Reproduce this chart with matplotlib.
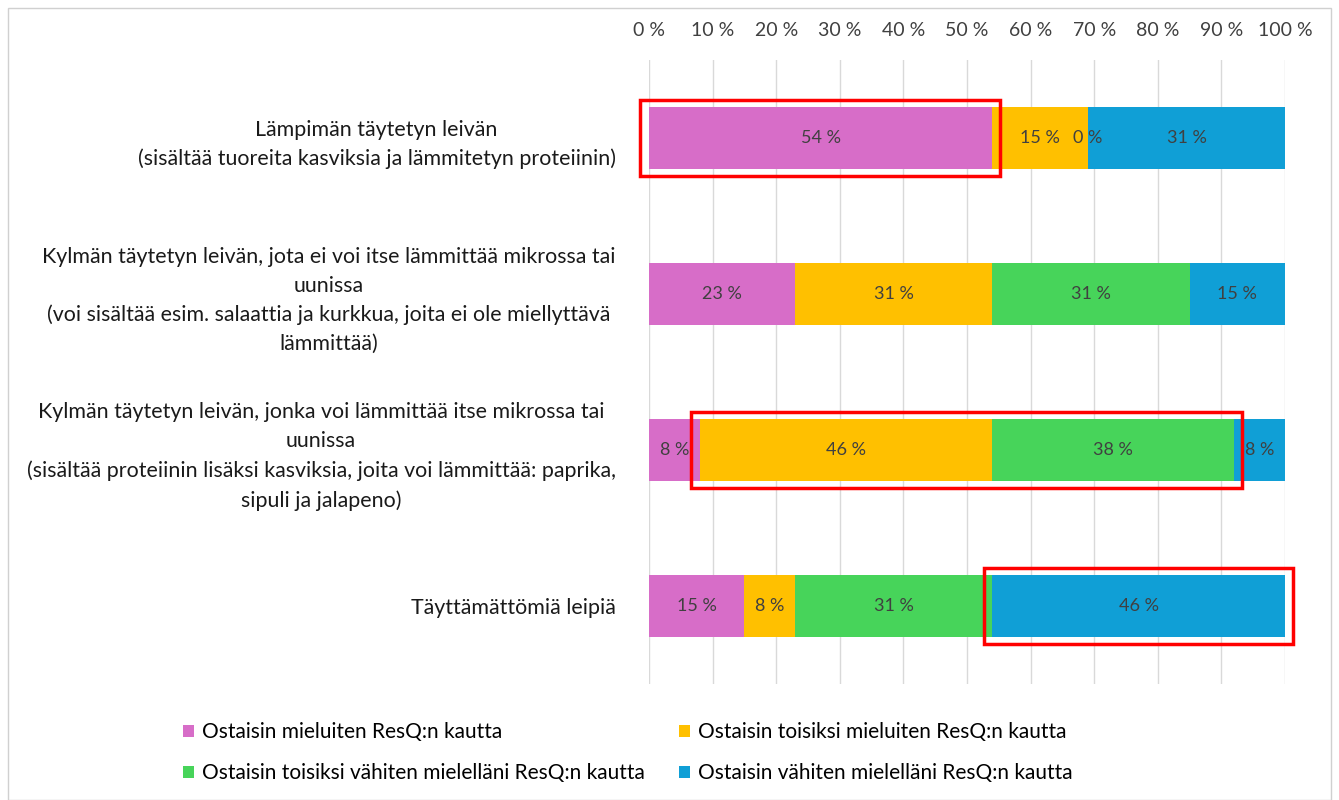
import numpy as np
import matplotlib
matplotlib.use("Agg")
import matplotlib.pyplot as plt
from matplotlib.patches import Rectangle

plt.rcParams['font.family'] = ['Lato', 'DejaVu Sans']

# data (percent of respondents)
categories = [
    "Lämpimän täytetyn leivän\n(sisältää tuoreita kasviksia ja lämmitetyn proteiinin)",
    "Kylmän täytetyn leivän, jota ei voi itse lämmittää mikrossa tai\nuunissa\n(voi sisältää esim. salaattia ja kurkkua, joita ei ole miellyttävä\nlämmittää)",
    "Kylmän täytetyn leivän, jonka voi lämmittää itse mikrossa tai\nuunissa\n(sisältää proteiinin lisäksi kasviksia, joita voi lämmittää: paprika,\nsipuli ja jalapeno)",
    "Täyttämättömiä leipiä",
]
series_names = [
    "Ostaisin mieluiten ResQ:n kautta",
    "Ostaisin toisiksi mieluiten ResQ:n kautta",
    "Ostaisin toisiksi vähiten mielelläni ResQ:n kautta",
    "Ostaisin vähiten mielelläni ResQ:n kautta",
]
most = [54, 23, 8, 15]
second = [15, 31, 46, 8]
second_least = [0, 31, 38, 31]
least = [31, 15, 8, 46]
colors = ["#D76DC8", "#FFC000", "#47D45A", "#109FD6"]

# highlighted segments: (category index, first series, last series)
highlights = [(0, 0, 0), (2, 1, 2), (3, 3, 3)]

fig = plt.figure(figsize=(13.39, 8), dpi=100)
ax = fig.add_axes([0.4847, 0.145, 0.475, 0.78])

vals = np.array([most, second, second_least, least], dtype=float)
y = np.arange(len(categories))
h = 0.4
left = np.zeros(len(categories))
handles = []
for i in range(len(series_names)):
    bars = ax.barh(y, vals[i], left=left, height=h, color=colors[i],
                   label=series_names[i], zorder=2)
    handles.append(bars)
    for yy, l, v in zip(y, left, vals[i]):
        ax.text(l + v / 2, yy, f"{v:.0f} %", ha='center', va='center',
                fontsize=13, color='#404040', zorder=3)
    left += vals[i]

cum = np.vstack([np.zeros(len(categories)), np.cumsum(vals, axis=0)])
for c, s0, s1 in highlights:
    x0 = cum[s0, c] - 1.4
    x1 = cum[s1 + 1, c] + 1.2
    ax.add_patch(Rectangle((x0, c - h / 2 - 0.045), x1 - x0, h + 0.09,
                           fill=False, edgecolor='#FF0000', lw=2.5,
                           zorder=4, clip_on=False))

ax.set_xlim(0, 100)
ax.set_ylim(3.5, -0.5)
ax.set_xticks(np.arange(0, 101, 10))
ax.set_xticklabels([f"{t} %" for t in range(0, 101, 10)], fontsize=14, color='#404040')
ax.xaxis.tick_top()
ax.set_yticks(y)
ax.set_yticklabels(categories, fontsize=15.4, color='#1a1a1a',
                   multialignment='center', linespacing=1.55)
ax.tick_params(axis='both', length=0)
ax.tick_params(axis='y', pad=24)
ax.tick_params(axis='x', pad=15)
ax.grid(axis='x', color='#D9D9D9', lw=1, zorder=0)
for s in ax.spines.values():
    s.set_visible(False)

# legend filled row by row, as in the original
order = [0, 2, 1, 3]
fig.legend([handles[k] for k in order], [series_names[k] for k in order],
           loc='center left', bbox_to_anchor=(0.123, 0.059), ncol=2, frameon=False,
           fontsize=15, handlelength=0.5, handleheight=0.5, handletextpad=0.4,
           columnspacing=1.65, labelspacing=1.0)

fig.patches.append(Rectangle((0.006, 0.0), 0.988, 0.99, transform=fig.transFigure,
                             fill=False, edgecolor='#D0D0D0', lw=1))

fig.savefig("out.png", dpi=100)
